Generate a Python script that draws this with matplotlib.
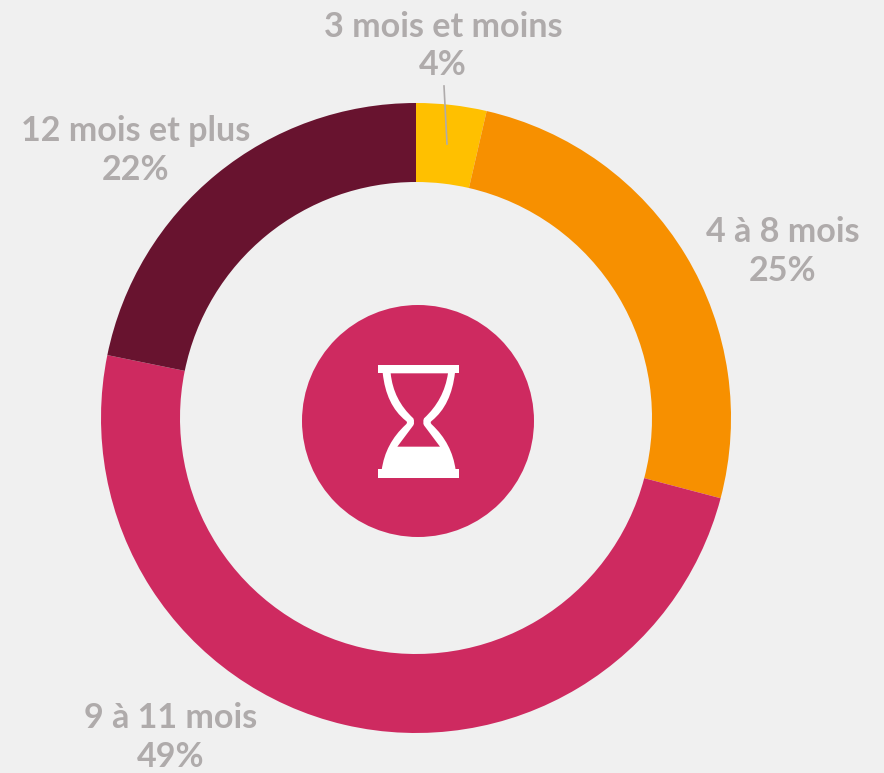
import matplotlib
matplotlib.use("Agg")
import matplotlib.pyplot as plt
from matplotlib.patches import Circle, PathPatch
from matplotlib.path import Path

categories = ["3 mois et moins", "4 à 8 mois", "9 à 11 mois", "12 mois et plus"]
shares = [3.6, 25.5, 49.1, 21.8]
labels_pct = ["4%", "25%", "49%", "22%"]
colors = ["#FFC000", "#F79000", "#CE2A60", "#68132F"]
BG = "#F0F0F0"
TXT = "#AFABAB"
W, H = 884, 773

plt.rcParams["font.family"] = ["Lato", "DejaVu Sans"]
fig = plt.figure(figsize=(W / 100, H / 100), dpi=100, facecolor=BG)
ax = fig.add_axes([0, 0, 1, 1])


def Y(py):
    return H - py


cx, cy, R, r = 416, 418, 315, 236
ax.pie(shares, colors=colors, startangle=90, counterclock=False,
       center=(cx, Y(cy)), radius=R, frame=True,
       wedgeprops=dict(width=R - r, linewidth=0))
ax.set_xlim(0, W)
ax.set_ylim(0, H)
ax.set_aspect("equal")
ax.axis("off")

ax.add_patch(Circle((418, Y(421)), 116, fc=colors[2], ec="none", zorder=3))


def Z(x, y):
    return (360 + x / 3, Y(350 + y / 3))


def glass(points, codes, color, z):
    ax.add_patch(PathPatch(Path([Z(*p) for p in points], codes), fc=color, ec="none", lw=0, zorder=z))


M, L, C, E = Path.MOVETO, Path.LINETO, Path.CURVE3, Path.CLOSEPOLY
# outer body of the hourglass
glass([(68, 68), (78, 165), (137, 212), (145, 217), (137, 224), (76, 280), (65, 360),
       (287, 360), (276, 280), (216, 224), (208, 217), (216, 212), (274, 165), (285, 68), (68, 68)],
      [M, C, C, C, C, C, C, L, C, C, C, C, C, C, E], "white", 4)
# inner cutout
glass([(92, 70), (100, 150), (160, 205), (165, 217), (160, 226), (112, 290),
       (240, 290), (192, 226), (187, 217), (192, 205), (252, 150), (264, 70), (92, 70)],
      [M, C, C, C, C, L, L, L, C, C, C, C, E], colors[2], 5)
# top and bottom bars
for y0, y1 in [(45, 70), (358, 383)]:
    glass([(53, y0), (298, y0), (298, y1), (53, y1), (53, y0)], [M, L, L, L, E], "white", 6)

positions = [(443, 27, 65), (783, 232, 271), (171, 718, 757), (136, 131, 170)]
for cat, pct, (x, y1, y2) in zip(categories, labels_pct, positions):
    ax.text(x, Y(y1), cat, ha="center", va="center", fontsize=24.6, fontweight="bold", color=TXT, zorder=6)
    ax.text(x, Y(y2), pct, ha="center", va="center", fontsize=24.6, fontweight="bold", color=TXT, zorder=6)

ax.plot([444, 447], [Y(86), Y(144)], color=TXT, lw=1.2, zorder=6)

fig.savefig("out.png", dpi=100, facecolor=BG)
